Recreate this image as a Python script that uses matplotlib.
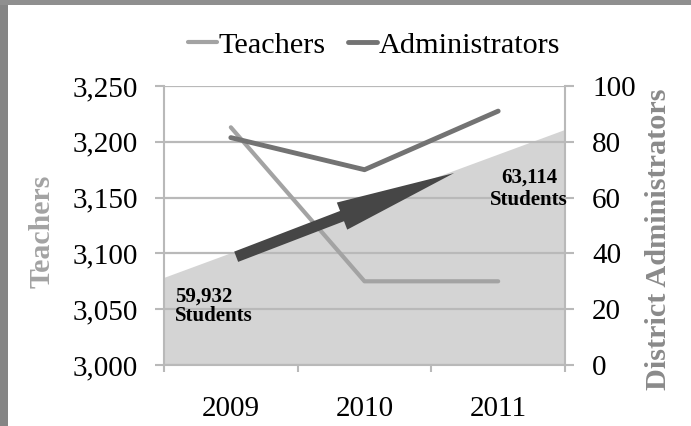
import matplotlib
matplotlib.use("Agg")
import matplotlib.pyplot as plt
from matplotlib.patches import Rectangle

plt.rcParams.update({
    "font.family": "Liberation Serif",
    "font.size": 21,
})

years = ["2009", "2010", "2011"]
teachers = [3213, 3075, 3075]
administrators = [81.5, 70, 91]
# student enrollment, first and last year (drawn as background area)
students = [59932, 63114]
student_labels = ["59,932\nStudents", "63,114\nStudents"]

teach_col = "#a3a3a3"
admin_col = "#737373"
grid_col = "#b9b9b9"

fig = plt.figure(figsize=(6.91, 4.26), dpi=100)
ax = fig.add_axes([164/691, 1-365/426, 401/691, 279/426])

# hidden axis for the students area, put behind the main axis
ax_s = ax.twinx()
ax_s.set_zorder(ax.get_zorder() - 1)
ax.patch.set_visible(False)
ax_s.fill_between([-0.5, 2.5], students, 0, color="#d4d4d4", lw=0)
ax_s.set_ylim(58062, 64060)
ax_s.axis("off")

x = list(range(len(years)))
ln1, = ax.plot(x, teachers, color=teach_col, lw=3, solid_capstyle="round", label="Teachers")
ax.set_xlim(-0.5, 2.5)
ax.set_ylim(3000, 3250)
ax.set_yticks(range(3000, 3251, 50))
ax.set_yticklabels([f"{v:,}" for v in range(3000, 3251, 50)])
ax.yaxis.grid(True, color=grid_col, lw=1.6)
ax.set_axisbelow(True)
ax.set_xticks(x)
ax.set_xticklabels(years)
ax.set_xticks([-0.5, 0.5, 1.5, 2.5], minor=True)
ax.tick_params(axis="x", which="major", length=0, pad=22)
ax.tick_params(axis="x", which="minor", length=5, width=1.5, color=grid_col)
ax.tick_params(axis="y", length=6.5, width=1.5, color=grid_col, pad=12)
for s in ["left", "right", "bottom"]:
    ax.spines[s].set_color(grid_col)
    ax.spines[s].set_linewidth(1.5)
ax.spines["top"].set_visible(False)

ax2 = ax.twinx()
ln2, = ax2.plot(x, administrators, color=admin_col, lw=3.5, solid_capstyle="round", label="Administrators")
ax2.set_ylim(0, 100)
ax2.set_yticks(range(0, 101, 20))
ax2.tick_params(axis="y", length=6.5, width=1.5, color=grid_col, pad=13)
for s in ["left", "right", "bottom", "top"]:
    ax2.spines[s].set_visible(False)

# big arrow for student growth
ax.annotate("", xy=(1.67, 3172), xytext=(0.04, 3097),
            arrowprops=dict(arrowstyle="simple,head_length=1.2,head_width=0.29,tail_width=0.11",
                            mutation_scale=72, color="#464646", lw=0,
                            shrinkA=0, shrinkB=0), zorder=5)
ax.text(-0.42, 3070, student_labels[0], ha="left", va="top", fontsize=15,
        fontweight="bold", linespacing=0.95, zorder=6)
ax.text(2.23, 3177, student_labels[1], ha="center", va="top", fontsize=15,
        fontweight="bold", linespacing=1.15, zorder=6, clip_on=False)

fig.legend([ln1, ln2], ["Teachers", "Administrators"], loc="center",
           bbox_to_anchor=(374/691, 1-45/426), ncol=2, frameon=False,
           fontsize=21.8, handlelength=0.95, handletextpad=0.05, columnspacing=0.75)

fig.text(42/691, 1-231/426, "Teachers", rotation=90, ha="center", va="center",
         color=teach_col, fontweight="bold", fontsize=21.5)
fig.text(658/691, 1-239/426, "District Administrators", rotation=90, ha="center",
         va="center", color="#8a8a8a", fontweight="bold", fontsize=21.8)

# grey frame of the original slide
fig.patches.append(Rectangle((0, 0), 8/691, 1, transform=fig.transFigure,
                             color="#858585", lw=0, zorder=10))
fig.patches.append(Rectangle((0, 1-5/426), 1, 5/426, transform=fig.transFigure,
                             color="#8f8f8f", lw=0, zorder=10))

fig.savefig("out.png", dpi=100)
